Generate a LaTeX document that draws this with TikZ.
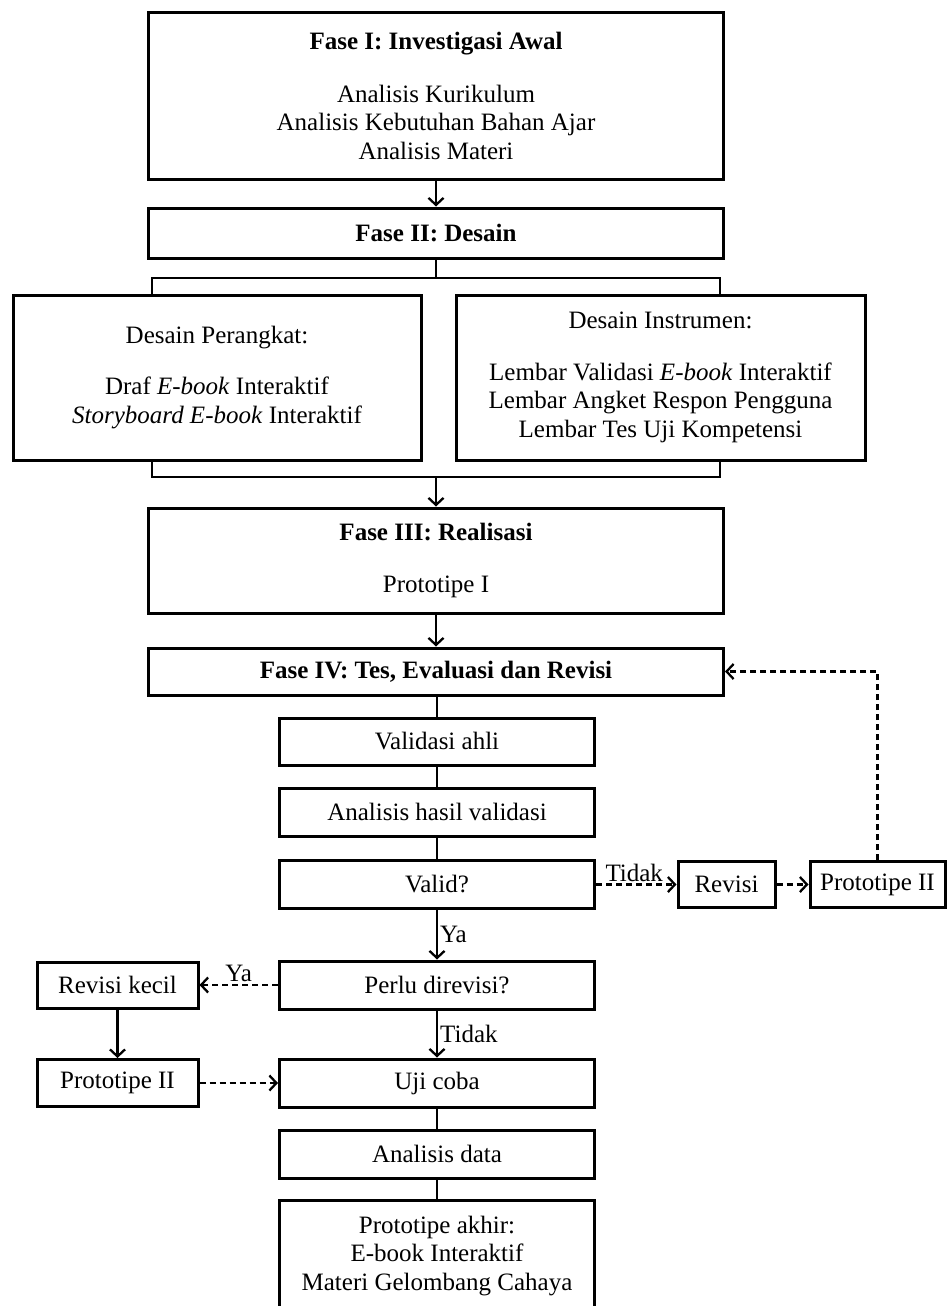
\documentclass[tikz,border=0pt]{standalone}
\usepackage{fontspec}
\setmainfont{Liberation Serif}
\usetikzlibrary{arrows.meta}
\begin{document}
\begin{tikzpicture}[x=1pt,y=-1pt,
  every node/.style={font=\fontsize{25}{28.5}\selectfont},
  box/.style={draw, line width=3pt, align=center, inner sep=0pt},
  conn/.style={line width=2.3pt},
  arr/.style={conn, -{Straight Barb[length=7pt,width=15pt]}},
  darr/.style={arr, dash pattern=on 6pt off 4pt},
  lbl/.style={inner sep=2pt}]
\useasboundingbox (0,0) rectangle (950,1306);
\fill[white] (0,0) rectangle (950,1306);
% top phases
\node[box, minimum width=575pt, minimum height=166pt] (f1) at (436,96)
  {\textbf{Fase I: Investigasi Awal}\\[24pt] Analisis Kurikulum\\ Analisis Kebutuhan Bahan Ajar\\ Analisis Materi};
\node[box, minimum width=575pt, minimum height=50pt] (f2) at (436,233)
  {\textbf{Fase II: Desain}};
\node[box, minimum width=408pt, minimum height=165pt] (dl) at (217,377.5)
  {Desain Perangkat:\\[23pt] Draf \textit{E-book} Interaktif\\ \textit{Storyboard E-book} Interaktif};
\node[box, minimum width=409pt, minimum height=165pt] (dr) at (660.5,377.5)
  {Desain Instrumen:\\[23pt] Lembar Validasi \textit{E-book} Interaktif\\ Lembar Angket Respon Pengguna\\ Lembar Tes Uji Kompetensi};
\node[box, minimum width=575pt, minimum height=105pt] (f3) at (436,560.5)
  {\textbf{Fase III: Realisasi}\\[23pt] Prototipe I};
\node[box, minimum width=575pt, minimum height=47pt] (f4) at (436,671.5)
  {\textbf{Fase IV: Tes, Evaluasi dan Revisi}};
% middle column
\node[box, minimum width=315pt, minimum height=47pt] (va) at (437,741.5) {Validasi ahli};
\node[box, minimum width=315pt, minimum height=48pt] (ah) at (437,812) {Analisis hasil validasi};
\node[box, minimum width=315pt, minimum height=48pt] (vd) at (437,884.5) {Valid?};
\node[box, minimum width=315pt, minimum height=48pt] (pd) at (437,985) {Perlu direvisi?};
\node[box, minimum width=315pt, minimum height=48pt] (uj) at (437,1083) {Uji coba};
\node[box, minimum width=315pt, minimum height=48pt] (ad) at (437,1154) {Analisis data};
\node[box, minimum width=315pt, minimum height=112pt] (pa) at (437,1256)
  {Prototipe akhir:\\ E-book Interaktif\\ Materi Gelombang Cahaya};
% side boxes
\node[box, minimum width=97pt, minimum height=46pt] (rv) at (726.5,884.5) {Revisi};
\node[box, minimum width=135pt, minimum height=46pt] (p2r) at (877.5,884.5) {Prototipe II};
\node[box, minimum width=161pt, minimum height=46pt] (rk) at (117.5,985) {Revisi kecil};
\node[box, minimum width=161pt, minimum height=47pt] (p2l) at (117.5,1083) {Prototipe II};
% connectors
\draw[arr] (f1.south) -- (f2.north);
\coordinate (tbl) at (152,278);
\coordinate (tbr) at (720,278);
\coordinate (bbl) at (152,477);
\coordinate (bbr) at (720,477);
\draw[conn] (f2.south) -- (f2.south |- tbl);
\draw[conn] (tbl |- dl.north) -- (tbl) -- (tbr) -- (tbr |- dr.north);
\draw[conn] (bbl |- dl.south) -- (bbl) -- (bbr) -- (bbr |- dr.south);
\draw[arr] (f3.north |- bbl) -- (f3.north);
\draw[arr] (f3.south) -- (f4.north);
\draw[conn] (va.north |- f4.south) -- (va.north);
\draw[conn] (va.south) -- (ah.north);
\draw[conn] (ah.south) -- (vd.north);
\draw[arr] (vd.south) -- node[right, lbl]{Ya} (pd.north);
\draw[arr] (pd.south) -- node[right, lbl]{Tidak} (uj.north);
\draw[conn] (uj.south) -- (ad.north);
\draw[conn] (ad.south) -- (pa.north);
\draw[darr] (vd.east) -- node[above, lbl, xshift=-2pt]{Tidak} (rv.west);
\draw[darr] (rv.east) -- (p2r.west);
\draw[darr] (p2r.north) -- (p2r.north |- f4.east) -- (f4.east);
\draw[darr] (pd.west) -- node[above, lbl]{Ya} (rk.east);
\draw[arr] (rk.south) -- (p2l.north);
\draw[darr] (p2l.east) -- (uj.west);
\end{tikzpicture}
\end{document}
